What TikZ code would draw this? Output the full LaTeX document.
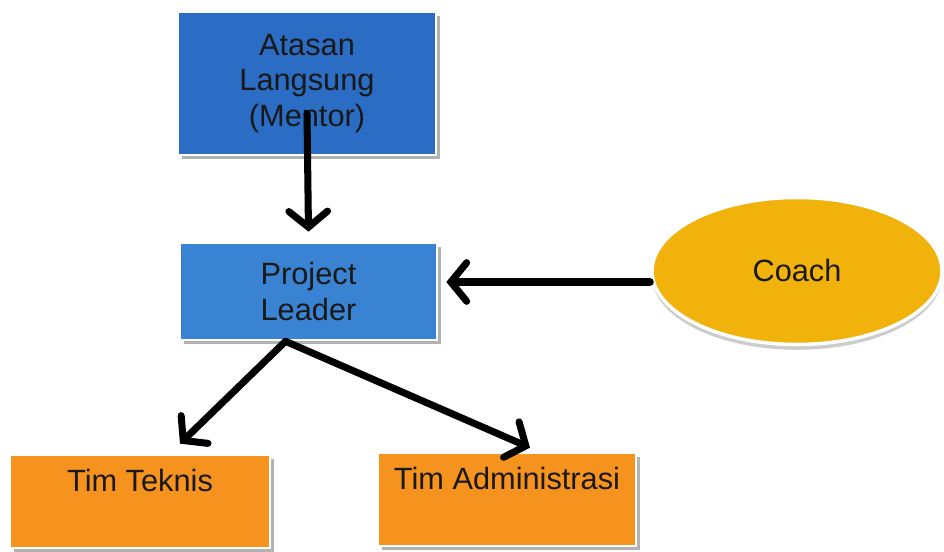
\documentclass[tikz,border=0pt]{standalone}
\usepackage{fontspec}
\setmainfont{Liberation Sans}
\usetikzlibrary{arrows.meta,shapes.geometric,shadows}

\definecolor{mentorblue}{HTML}{2B6CC4}
\definecolor{leaderblue}{HTML}{3A83D2}
\definecolor{teamorange}{HTML}{F6921E}
\definecolor{coachgold}{HTML}{F2B20C}

\tikzset{
    box/.style={rectangle, draw=white, line width=1.5pt, inner sep=0pt,
        font=\fontsize{17.5}{20}\selectfont, text=black!90, align=center,
        drop shadow={shadow xshift=2.5pt, shadow yshift=-2.5pt, fill=black!30, opacity=1}},
    teambox/.style={box, fill=teamorange, text height=0.74cm, text depth=1.12cm, align=none},
    link/.style={line width=4pt, line cap=round, -{Straight Barb[length=9pt,width=22pt,line cap=round]}}
}

\begin{document}
\begin{tikzpicture}
    \useasboundingbox (0,0) rectangle (18.88,-11.04);

    \node[box, fill=mentorblue, minimum width=5.16cm, minimum height=2.86cm] (mentor) at (6.14,-1.67) {Atasan\\Langsung\\(Mentor)};
    \node[box, fill=leaderblue, minimum width=5.14cm, minimum height=1.94cm] (leader) at (6.17,-5.83) {Project\\Leader};
    \node[ellipse, fill=coachgold, draw=white, line width=2pt, minimum width=5.8cm, minimum height=2.94cm,
        font=\fontsize{17.5}{20}\selectfont, text=black!90,
        drop shadow={shadow xshift=0pt, shadow yshift=-3pt, fill=black!20, opacity=1}] (coach) at (15.94,-5.42) {Coach};
    \node[teambox, minimum width=5.2cm] (teknis) at (2.8,-10.03) {Tim Teknis};
    \node[teambox, minimum width=5.16cm] (admin) at (10.14,-9.99) {Tim Administrasi};

    \coordinate (split) at ([xshift=-0.46cm]leader.south);
    \coordinate (coachout) at ([yshift=-0.22cm]coach.west);

    \draw[link] ([yshift=-0.6cm]mentor.center) -- ([yshift=0.2cm]leader.north);
    \draw[link] (coachout) -- ([xshift=0.16cm]leader.east |- coachout);
    \draw[link] (split) -- ([xshift=0.8cm,yshift=0.2cm]teknis.north);
    \draw[link] (split) -- ([xshift=0.46cm,yshift=0.08cm]admin.north);
\end{tikzpicture}
\end{document}
